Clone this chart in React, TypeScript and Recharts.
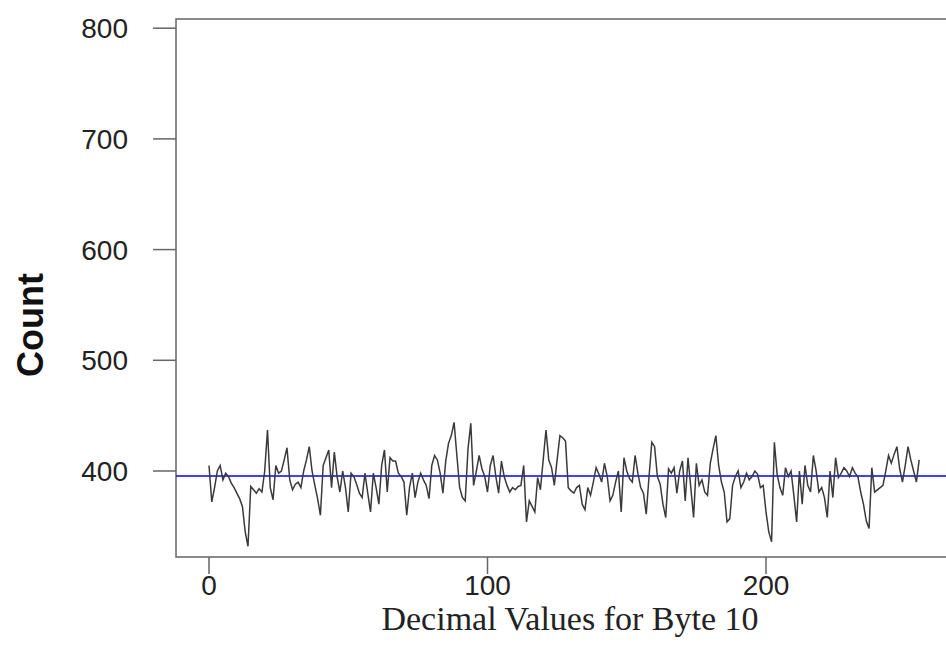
import React from 'react'
import {
  LineChart,
  Line,
  XAxis,
  YAxis,
  ReferenceLine,
  ReferenceArea,
  Label,
} from 'recharts'

// counts, one per decimal value 0..255
const counts = [
  405, 372, 385, 400, 405, 392, 398, 395, 389, 385, 380, 375, 368, 345, 332, 386,
  383, 380, 384, 381, 400, 437, 385, 374, 405, 398, 400, 410, 421, 392, 383, 388,
  390, 385, 400, 410, 422, 400, 387, 375, 360, 405, 412, 419, 385, 417, 395, 381,
  400, 385, 363, 398, 395, 388, 380, 376, 398, 380, 363, 398, 385, 370, 405, 419,
  381, 412, 409, 409, 398, 395, 390, 360, 385, 398, 376, 390, 398, 392, 387, 375,
  405, 414, 410, 398, 380, 409, 425, 432, 444, 414, 385, 376, 373, 420, 443, 387,
  400, 414, 402, 395, 381, 405, 414, 395, 380, 409, 395, 387, 381, 385, 383, 386,
  387, 405, 354, 373, 368, 363, 394, 383, 410, 437, 410, 403, 387, 410, 432, 430,
  427, 385, 382, 380, 385, 387, 370, 365, 385, 378, 390, 403, 397, 390, 407, 395,
  373, 378, 390, 400, 363, 412, 400, 393, 390, 414, 398, 385, 380, 361, 395, 426,
  422, 395, 388, 370, 358, 402, 398, 403, 380, 400, 409, 373, 412, 385, 358, 407,
  387, 392, 381, 378, 407, 420, 432, 405, 390, 381, 354, 357, 387, 395, 400, 385,
  390, 398, 392, 395, 400, 397, 385, 387, 363, 345, 336, 426, 397, 385, 378, 403,
  395, 400, 378, 354, 400, 370, 405, 387, 381, 414, 400, 381, 385, 376, 358, 400,
  376, 412, 394, 398, 403, 400, 395, 403, 398, 395, 381, 370, 355, 348, 403, 381,
  383, 385, 387, 400, 414, 407, 415, 422, 402, 390, 405, 422, 410, 400, 390, 410,
]

const expectedCount = 395.5
const xTicks = [0, 100, 200]
const yTicks = [400, 500, 600, 700, 800]
const xDomain = [-11.85, 266.07]
const yDomain = [322.3, 808.3]

const data = counts.map((value, i) => ({ byteValue: i, count: value }))

const tickStyle = {
  fontFamily: '"Liberation Sans", Arial, sans-serif',
  fontSize: 28,
  fill: '#222',
}

export default function App() {
  return (
    <div
      style={{
        position: 'absolute',
        left: 0,
        top: 0,
        width: 946,
        height: 666,
        overflow: 'hidden',
        background: '#fff',
      }}
    >
      <LineChart
        width={960}
        height={666}
        data={data}
        margin={{ top: 19, right: 10, left: 0, bottom: 49 }}
      >
        <ReferenceArea
          x1={xDomain[0]}
          x2={xDomain[1]}
          y1={yDomain[0]}
          y2={yDomain[1]}
          fill="none"
          stroke="#666"
          strokeWidth={1.5}
          ifOverflow="visible"
        />
        <XAxis
          type="number"
          dataKey="byteValue"
          domain={xDomain}
          ticks={xTicks}
          allowDataOverflow
          axisLine={false}
          tickLine={{ stroke: '#666', strokeWidth: 1.5 }}
          tickSize={17}
          tickMargin={1}
          height={60}
          tick={tickStyle}
        >
          <Label
            content={() => (
              <text
                x={570}
                y={630}
                textAnchor="middle"
                fontFamily='"Liberation Serif", "Times New Roman", serif'
                fontSize={34}
                fill="#222"
              >
                Decimal Values for Byte 10
              </text>
            )}
          />
        </XAxis>
        <YAxis
          type="number"
          domain={yDomain}
          ticks={yTicks}
          allowDataOverflow
          axisLine={false}
          tickLine={{ stroke: '#666', strokeWidth: 1.5 }}
          tickSize={23}
          tickMargin={25}
          width={176}
          tick={tickStyle}
        >
          <Label
            content={() => (
              <text
                x={30}
                y={325}
                transform="rotate(-90 30 325)"
                textAnchor="middle"
                dominantBaseline="central"
                fontFamily='"Liberation Sans", Arial, sans-serif'
                fontWeight="bold"
                fontSize={36}
                fill="#111"
              >
                Count
              </text>
            )}
          />
        </YAxis>
        <ReferenceLine y={expectedCount} stroke="#0000ff" strokeWidth={1.6} />
        <Line
          type="linear"
          dataKey="count"
          stroke="#3a3a3a"
          strokeWidth={1.5}
          dot={false}
          isAnimationActive={false}
        />
      </LineChart>
    </div>
  )
}
